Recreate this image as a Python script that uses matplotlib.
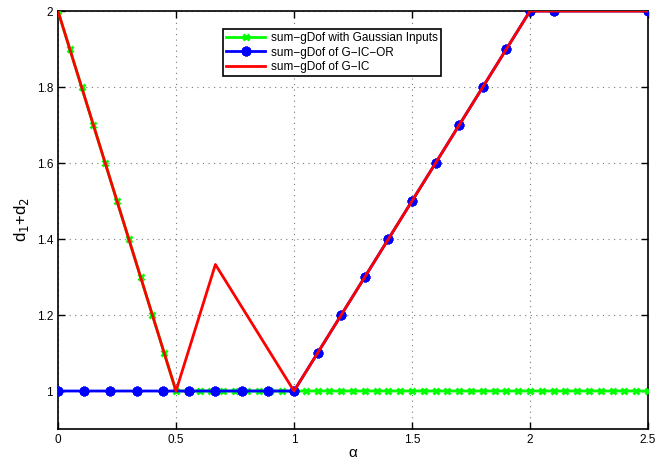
import numpy as np
import matplotlib
matplotlib.use("Agg")
import matplotlib.pyplot as plt

plt.rcParams['font.family'] = ['Liberation Sans', 'DejaVu Sans']

# sum-gDof with Gaussian inputs
alpha_gauss = [round(0.05 * i, 2) for i in range(51)]
d_gauss = [2.0, 1.9, 1.8, 1.7, 1.6, 1.5, 1.4, 1.3, 1.2, 1.1] + [1.0] * 41

# sum-gDof of G-IC-OR
alpha_or = [0.0, 0.111, 0.222, 0.333, 0.444, 0.556, 0.667, 0.778, 0.889, 1.0,
            1.1, 1.2, 1.3, 1.4, 1.5, 1.6, 1.7, 1.8, 1.9, 2.0, 2.1, 2.5]
d_or = [1.0] * 10 + [1.1, 1.2, 1.3, 1.4, 1.5, 1.6, 1.7, 1.8, 1.9, 2.0, 2.0, 2.0]

# sum-gDof of G-IC
alpha_ic = [0.0, 0.5, 0.667, 1.0, 2.0, 2.5]
d_ic = [2.0, 1.0, 1.333, 1.0, 2.0, 2.0]

fig = plt.figure(figsize=(6.56, 4.61), dpi=100)
ax = fig.add_axes([0.0884, 0.0694, 0.8994, 0.9066])

ax.plot(alpha_gauss, d_gauss, color='#00ff00', lw=2, marker='x', ms=5, mew=2,
        label='sum\u2212gDof with Gaussian Inputs', zorder=3)
ax.plot(alpha_or, d_or, color='#0000ff', lw=2, marker=(8, 2, 0), ms=7, mew=2.2,
        label='sum\u2212gDof of G\u2212IC\u2212OR', zorder=4)
ax.plot(alpha_ic, d_ic, color='#ff0000', lw=2, label='sum\u2212gDof of G\u2212IC', zorder=5)

ax.set_xlim(0, 2.5)
ax.set_ylim(0.9, 2)
ax.set_xticks([0, 0.5, 1, 1.5, 2, 2.5])
ax.set_xticklabels(['0', '0.5', '1', '1.5', '2', '2.5'])
ax.set_yticks([1, 1.2, 1.4, 1.6, 1.8, 2])
ax.set_yticklabels(['1', '1.2', '1.4', '1.6', '1.8', '2'])
ax.tick_params(direction='in', top=True, right=True, labelsize=8.5, length=5, width=1)
ax.grid(True, linestyle=(0, (1, 4)), color='#777777', lw=0.8)
for s in ax.spines.values():
    s.set_linewidth(1.2)

ax.set_xlabel('\u03b1', fontsize=11, labelpad=0)
ax.set_ylabel('d$_1$+d$_2$', fontsize=12, labelpad=4)

leg = ax.legend(loc='upper left', bbox_to_anchor=(0.279, 0.958), fontsize=8.5,
                fancybox=False, edgecolor='black', framealpha=1,
                handlelength=3.3, handletextpad=0.5, borderpad=0.3,
                labelspacing=0.2, borderaxespad=0)
leg.get_frame().set_linewidth(1.2)

fig.savefig('out.png', dpi=100)
